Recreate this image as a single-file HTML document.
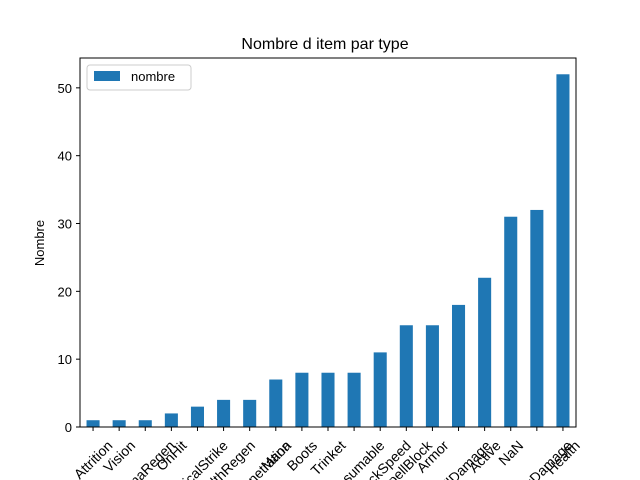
<!DOCTYPE html>
<html><head><meta charset="utf-8"><style>
html,body{margin:0;background:#fff;width:640px;height:480px;overflow:hidden;}
text{font-family:"Liberation Sans","DejaVu Sans",sans-serif;}
</style></head><body>
<svg id="chart" width="640" height="480" viewBox="0 0 640 480" style="display:block;overflow:hidden">
<rect x="0" y="0" width="640" height="480" fill="#fff"/>
<text x="325" y="49" font-size="16" text-anchor="middle">Nombre d item par type</text>
<text transform="translate(44,243) rotate(-90)" font-size="13" text-anchor="middle">Nombre</text>
<g id="bars"></g><g id="yticks"></g><g id="xticks"></g>
<rect x="80" y="58" width="496" height="369" fill="none" stroke="#000" stroke-width="1"/>
<g>
<rect x="87" y="65" width="104" height="25" rx="3" fill="#fff" stroke="#ccc"/>
<rect x="94" y="71" width="26" height="10" fill="#1f77b4"/>
<text x="131" y="81" font-size="13">nombre</text>
</g>
</svg>
<script>
const categories=["Attrition","Vision","ManaRegen","OnHit","CriticalStrike","HealthRegen","ArmorPenetration","Mana","Boots","Trinket","Consumable","AttackSpeed","SpellBlock","Armor","SpellDamage","Active","NaN","AttackDamage","Health"];
const values=[1,1,1,2,3,4,4,7,8,8,8,11,15,15,18,22,31,32,52];
const yTicks=[0,10,20,30,40,50];
const NS="http://www.w3.org/2000/svg";
const x0=80,x1=576,y0=427,y1=58,yMax=54.4;
const xs=i=>x0+(i+0.5)*(x1-x0)/categories.length;
const ys=v=>y0-v*(y0-y1)/yMax;
const bw=0.5*(x1-x0)/categories.length;
function mk(t,a,p){const e=document.createElementNS(NS,t);for(const k in a)e.setAttribute(k,a[k]);p.appendChild(e);return e;}
const gb=document.getElementById('bars'),gy=document.getElementById('yticks'),gx=document.getElementById('xticks');
values.forEach((v,i)=>{
const r=mk('rect',{x:xs(i)-bw/2,y:ys(v),width:bw,height:y0-ys(v),fill:'#1f77b4'},gb);


});
yTicks.forEach(t=>{
const l=mk('line',{x1:76,x2:80,y1:ys(t),y2:ys(t),stroke:'#000'},gy);


const tx=mk('text',{x:72,y:ys(t)+5,'font-size':13,'text-anchor':'end'},gy);
tx.textContent=t;


});
categories.forEach((c,i)=>{
const x=xs(i);
const l=mk('line',{x1:x,x2:x,y1:427,y2:431,stroke:'#000'},gx);


const tx=mk('text',{'font-size':14,'text-anchor':'middle'},gx);
tx.textContent=c;


const w=tx.getComputedTextLength(),h=14;
const cy=438+(w+h)*0.7071/2;
tx.setAttribute('transform','translate('+x+','+cy+') rotate(-45)');
tx.setAttribute('y',5);
});
</script>
</body></html>
